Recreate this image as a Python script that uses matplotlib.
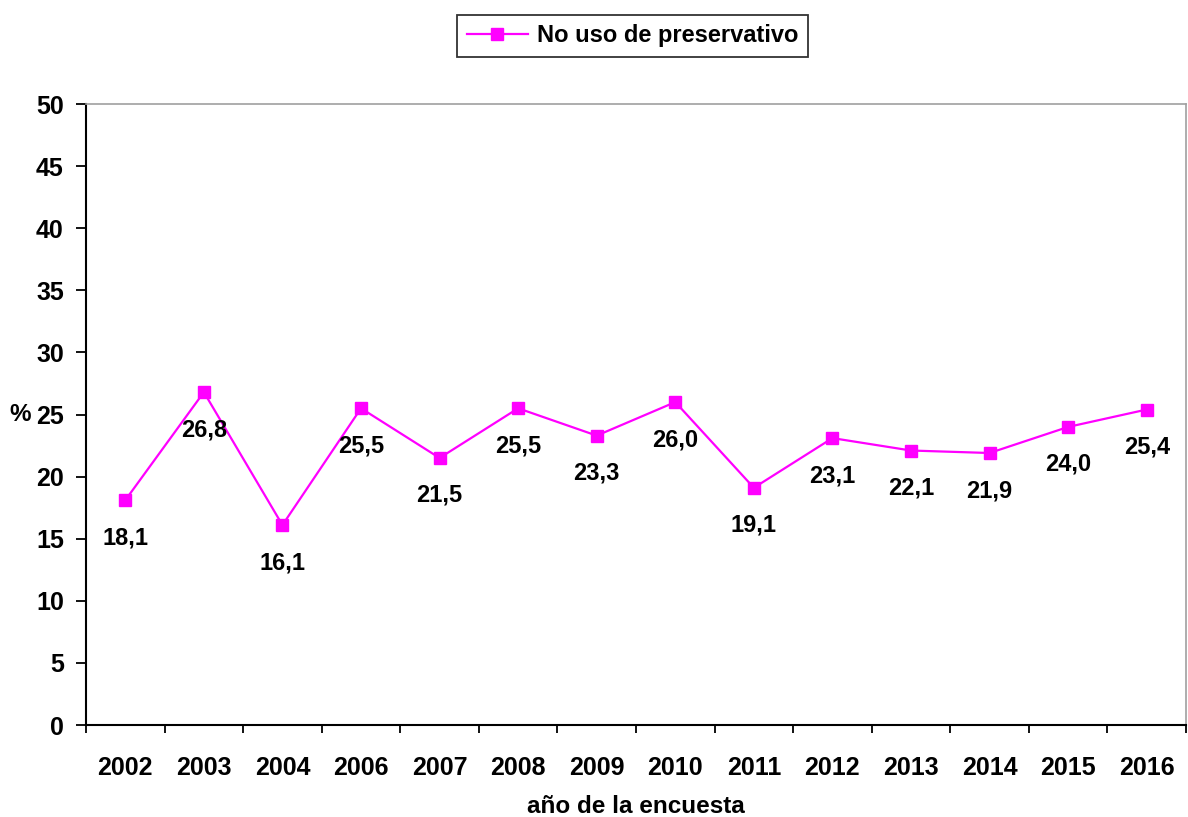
import numpy as np
import matplotlib.pyplot as plt
from matplotlib.ticker import FixedLocator, NullFormatter, FixedFormatter

plt.rcParams['font.family'] = ['Liberation Sans', 'DejaVu Sans']
plt.rcParams['font.weight'] = 'bold'

years = ['2002', '2003', '2004', '2006', '2007', '2008', '2009',
         '2010', '2011', '2012', '2013', '2014', '2015', '2016']
no_uso = [18.1, 26.8, 16.1, 25.5, 21.5, 25.5, 23.3,
          26.0, 19.1, 23.1, 22.1, 21.9, 24.0, 25.4]
yticks = [0, 5, 10, 15, 20, 25, 30, 35, 40, 45, 50]

fig = plt.figure(figsize=(11.88, 8.17), dpi=100)
ax = fig.add_axes([0.0724, 0.1126, 0.9259, 0.7601])

x = np.arange(len(years))
ax.plot(x, no_uso, color='#FF00FF', lw=1.6, marker='s', ms=8.5,
        label='No uso de preservativo', zorder=3)

for xi, v in zip(x, no_uso):
    ax.annotate(('%.1f' % v).replace('.', ','), (xi, v), xytext=(0, -27),
                textcoords='offset points', ha='center', va='center',
                fontsize=17, fontweight='bold')

ax.set_xlim(-0.5, len(years) - 0.5)
ax.set_ylim(0, 50)
ax.set_yticks(yticks)
ax.set_yticklabels([str(t) for t in yticks])

# ticks between categories, labels at centres
ax.xaxis.set_major_locator(FixedLocator(np.arange(len(years) + 1) - 0.5))
ax.xaxis.set_major_formatter(NullFormatter())
ax.xaxis.set_minor_locator(FixedLocator(x))
ax.xaxis.set_minor_formatter(FixedFormatter(years))
ax.tick_params(axis='x', which='minor', length=0, pad=22, labelsize=18)
ax.tick_params(axis='x', which='major', direction='out', length=6, width=1.3)
ax.tick_params(axis='y', direction='out', length=7, width=1.3, pad=9, labelsize=18)

for s in ['left', 'bottom']:
    ax.spines[s].set_color('black')
    ax.spines[s].set_linewidth(1.5)
for s in ['top', 'right']:
    ax.spines[s].set_color('#A0A0A0')
    ax.spines[s].set_linewidth(1.2)

ax.set_xlabel('año de la encuesta', fontsize=17.5, fontweight='bold', labelpad=11)
ax.set_ylabel('%', fontsize=17.5, fontweight='bold', rotation=0, va='center')
ax.yaxis.set_label_coords(-0.06, 0.5)

leg = ax.legend(loc='center', bbox_to_anchor=(0.497, 1.11), fontsize=17,
                frameon=True, fancybox=False, edgecolor='black',
                handlelength=2.6, borderpad=0.4, handletextpad=0.4)
leg.get_frame().set_linewidth(1.3)
for t in leg.get_texts():
    t.set_fontweight('bold')

fig.savefig('out.png', dpi=100)
